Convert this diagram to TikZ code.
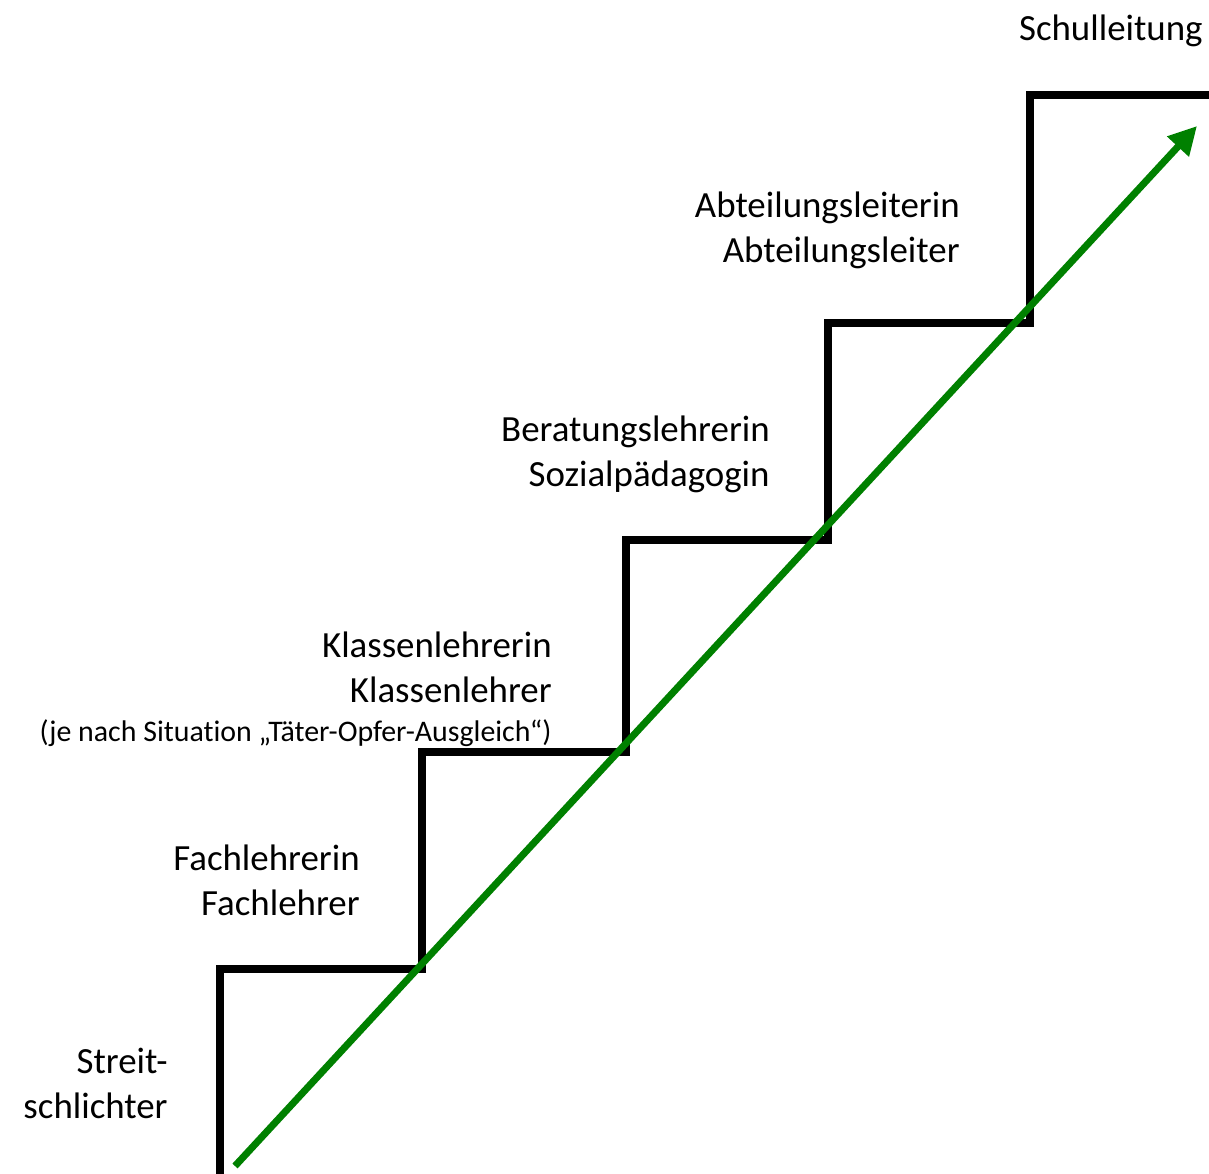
\documentclass[tikz,border=0pt]{standalone}
\usepackage{fontspec}
\setmainfont{Carlito}[Ligatures=NoCommon]
\usepackage{xcolor}
\usepackage{tikz}
\usetikzlibrary{arrows.meta,positioning,calc}
\definecolor{arrowgreen}{RGB}{0,128,0}

\begin{document}
\begin{tikzpicture}[
    x=0.02cm, y=-0.02cm,
    stair/.style={draw=black, line width=4.8pt, line join=miter},
    role/.style={anchor=base east, align=right, inner sep=0pt, font=\fontsize{21}{25.5}\selectfont},
    note/.style={anchor=base east, inner sep=0pt, font=\fontsize{17}{20}\selectfont},
    climb/.style={draw=arrowgreen, line width=4pt, -{Triangle[length=16pt,width=16pt]}},
]
    \useasboundingbox (0,0) rectangle (1209,1173);
    % Stairs
    \coordinate (s0) at (220,1180);
    \coordinate (s1) at (220,969);
    \coordinate (s2) at (422,969);
    \coordinate (s3) at (422,752);
    \coordinate (s4) at (626,752);
    \coordinate (s5) at (626,540);
    \coordinate (s6) at (828,540);
    \coordinate (s7) at (828,323);
    \coordinate (s8) at (1030,323);
    \coordinate (s9) at (1030,95);
    \coordinate (s10) at (1215,95);
    \draw[stair] (s0) -- (s1) -- (s2) -- (s3) -- (s4) -- (s5) -- (s6) -- (s7) -- (s8) -- (s9) -- (s10);
    % Labels (anchored on the last line)
    \node[role] (streit) at (168,1118) {Streit-\\schlichter};
    \node[role] (fach) at (360,915) {Fachlehrerin\\Fachlehrer};
    \node[role] (klasse) at (552,702) {Klassenlehrerin\\Klassenlehrer};
    \node[note] (toa) at (552,741) {(je nach Situation „Täter-Opfer-Ausgleich“)};
    \node[role] (berat) at (770,486) {Beratungslehrerin\\Sozialpädagogin};
    \node[role] (abt) at (960,262) {Abteilungsleiterin\\Abteilungsleiter};
    \node[role] (schul) at (1203,40) {Schulleitung};
    % Arrow
    \coordinate (a0) at (235,1166);
    \coordinate (a1) at (1197,126);
    \draw[climb] (a0) -- (a1);
\end{tikzpicture}
\end{document}
